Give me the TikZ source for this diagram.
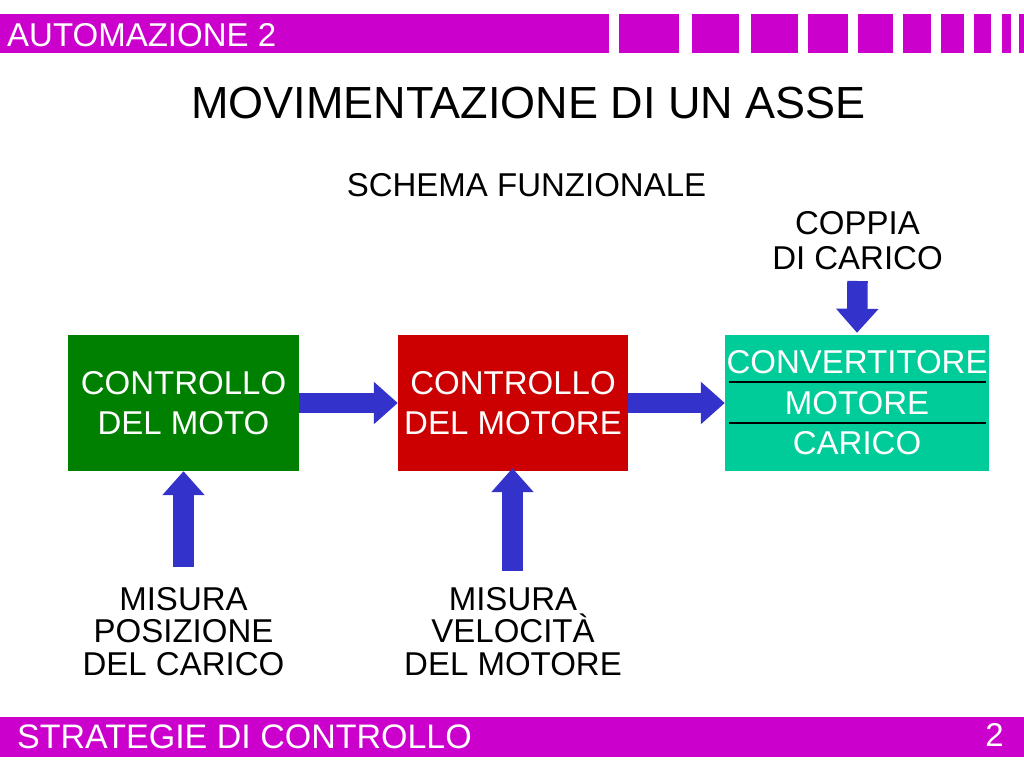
\documentclass[tikz,border=0pt]{standalone}
\usepackage{fontspec}
\setmainfont{Liberation Sans}
\usetikzlibrary{arrows.meta}
\definecolor{magbar}{RGB}{204,0,204}
\definecolor{boxgreen}{RGB}{0,128,0}
\definecolor{boxred}{RGB}{204,0,0}
\definecolor{boxteal}{RGB}{0,204,153}
\definecolor{arrowblue}{RGB}{51,51,204}
\tikzset{
  txt/.style={font=\fontsize{33}{33}\selectfont, inner sep=0pt},
  block/.style={inner sep=0pt, text=white, align=center,
    font=\fontsize{33}{40.5}\selectfont},
  label3/.style={inner sep=0pt, align=center,
    font=\fontsize{33}{32.5}\selectfont},
  blockarrow/.style={draw=arrowblue, line width=20.5pt,
    -{Triangle[length=24pt,width=41pt]}, fill=arrowblue}
}
\begin{document}
\begin{tikzpicture}[x=1pt,y=-1pt]
\useasboundingbox (0,0) rectangle (1024,768);
% header bar
\fill[magbar] (0,14) rectangle (609,53);
\foreach \a/\b in {619/679,692/739,751/798,808/848,858/893,903/931,941/964,974/991,1002/1011,1019/1024}
  \fill[magbar] (\a,14) rectangle (\b,53);
\node[txt, text=white, anchor=base west] (hdr) at (7,46) {AUTOMAZIONE 2};
% footer bar
\fill[magbar] (0,717) rectangle (1024,757);
\node[txt, text=white, anchor=base west, font=\fontsize{34}{34}\selectfont] (ftr) at (17,748) {STRATEGIE DI CONTROLLO};
\node[txt, text=white, anchor=base east] (pg) at (1004,746) {2};
% titles
\node[inner sep=0pt, font=\fontsize{45}{45}\selectfont, anchor=base] (title) at (528.5,118) {MOVIMENTAZIONE DI UN ASSE};
\node[txt, anchor=base] (sub) at (526.5,196) {SCHEMA FUNZIONALE};
\node[label3, anchor=base, font=\fontsize{33}{35}\selectfont] (coppia) at (857.5,269) {COPPIA\\DI CARICO};
% blocks
\node[block, fill=boxgreen, minimum width=231pt, minimum height=136pt] (moto) at (183.5,403) {CONTROLLO\\DEL MOTO};
\node[block, fill=boxred, minimum width=230pt, minimum height=136pt] (motore) at (513,403) {CONTROLLO\\DEL MOTORE};
\node[block, fill=boxteal, minimum width=264pt, minimum height=136pt] (conv) at (857,403) {CONVERTITORE\\MOTORE\\CARICO};
\draw[line width=1.6pt] ([xshift=4pt,yshift=21pt]conv.west) -- ([xshift=-3pt,yshift=21pt]conv.east);
\draw[line width=1.6pt] ([xshift=4pt,yshift=-20pt]conv.west) -- ([xshift=-3pt,yshift=-20pt]conv.east);
% bottom labels
\node[label3, anchor=base] (pos) at (183.5,675) {MISURA\\POSIZIONE\\DEL CARICO};
\node[label3, anchor=base] (vel) at (513,675) {MISURA\\VELOCIT\`A\\DEL MOTORE};
% arrow tails
\coordinate (ctop) at (857.5,281);
\coordinate (pbot) at (183.5,567);
\coordinate (vbot) at (512.5,571);
% arrows
\draw[blockarrow] (moto.east) -- (motore.west);
\draw[blockarrow] (motore.east) -- (conv.west);
\draw[blockarrow] (ctop) -- ([yshift=2pt]conv.north);
\draw[blockarrow] (pbot) -- (moto.south);
\draw[blockarrow] (vbot) -- ([xshift=-0.5pt,yshift=3pt]motore.south);
\end{tikzpicture}
\end{document}
